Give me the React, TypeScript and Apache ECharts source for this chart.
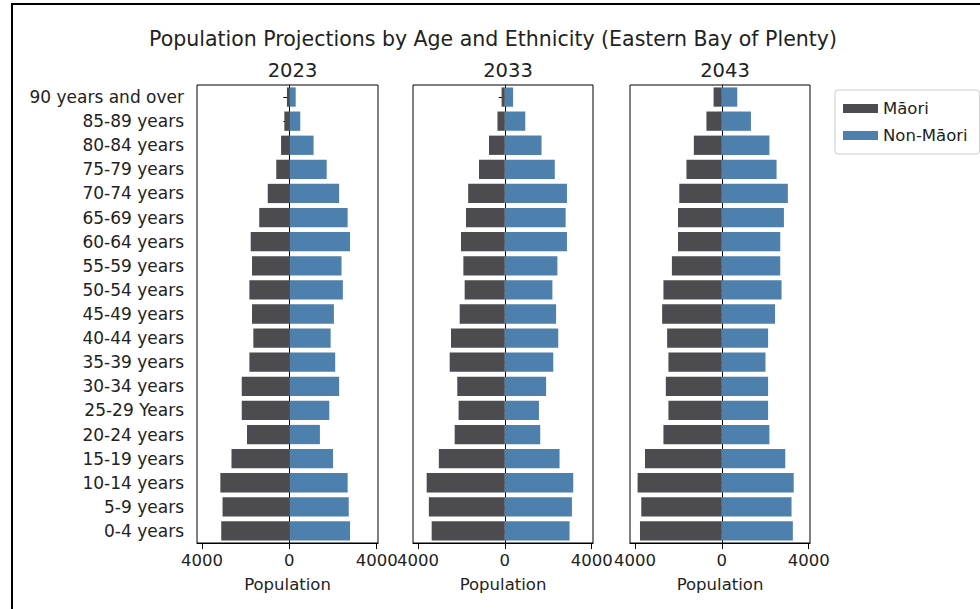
import React, { useEffect, useRef } from "react";
import * as echarts from "echarts";

const ageGroups = [
  "0-4 years", "5-9 years", "10-14 years", "15-19 years", "20-24 years",
  "25-29 Years", "30-34 years", "35-39 years", "40-44 years", "45-49 years",
  "50-54 years", "55-59 years", "60-64 years", "65-69 years", "70-74 years",
  "75-79 years", "80-84 years", "85-89 years", "90 years and over",
];

const years = ["2023", "2033", "2043"];

// Māori population (shown to the left)
const maori2023 = [3120, 3060, 3160, 2650, 1940, 2180, 2180, 1830, 1650, 1710, 1830, 1710, 1770, 1380, 990, 600, 380, 230, 110];
const maori2033 = [3370, 3500, 3600, 3040, 2310, 2130, 2190, 2540, 2480, 2080, 1850, 1910, 2020, 1790, 1690, 1190, 730, 340, 150];
const maori2043 = [3770, 3710, 3880, 3540, 2690, 2460, 2580, 2460, 2520, 2750, 2690, 2300, 2020, 2020, 1960, 1630, 1290, 710, 380];

// Non-Māori population (shown to the right)
const nonMaori2023 = [2780, 2720, 2670, 2000, 1400, 1830, 2280, 2100, 1890, 2040, 2450, 2390, 2780, 2670, 2280, 1710, 1110, 500, 290];
const nonMaori2033 = [2980, 3090, 3150, 2520, 1630, 1570, 1900, 2230, 2460, 2360, 2190, 2420, 2860, 2800, 2860, 2300, 1690, 940, 380];
const nonMaori2043 = [3270, 3210, 3310, 2920, 2190, 2130, 2130, 2010, 2130, 2450, 2750, 2690, 2690, 2860, 3040, 2520, 2190, 1340, 710];

const maoriData = [maori2023, maori2033, maori2043];
const nonMaoriData = [nonMaori2023, nonMaori2033, nonMaori2043];

const xTicks = [-4000, 0, 4000];

const FONT = "DejaVu Sans";
const MAORI_COLOR = "#4b4b50";
const NON_MAORI_COLOR = "#4e80ad";

export default function App() {
  const ref = useRef<HTMLDivElement>(null);

  useEffect(() => {
    if (!ref.current) return;
    const chart = echarts.init(ref.current, undefined, { renderer: "svg" });

    const panels = [
      { left: 197, width: 181 },
      { left: 413, width: 180 },
      { left: 630, width: 180 },
    ];

    const grids = panels.map((p) => ({
      left: p.left,
      width: p.width,
      top: 85,
      bottom: 66,
      show: true,
      borderColor: "#000",
      borderWidth: 1,
      backgroundColor: "transparent",
    }));

    const xAxes = panels.map((_, i) => ({
      type: "value",
      gridIndex: i,
      min: -4230,
      max: 4060,
      splitLine: { show: false },
      axisLine: { show: true, onZero: false, lineStyle: { color: "#000" } },
      axisTick: {
        show: true,
        length: 6,
        customValues: xTicks,
        lineStyle: { color: "#000" },
      },
      axisLabel: {
        customValues: xTicks,
        formatter: (v: number) => String(Math.abs(v)),
        fontFamily: FONT,
        fontSize: 16.5,
        color: "#222",
        margin: 9,
      },
      name: "Population",
      nameLocation: "middle",
      nameGap: 33,
      nameTextStyle: { fontFamily: FONT, fontSize: 16.5, color: "#222" },
    }));

    const yAxes = panels.map((_, i) => ({
      type: "category",
      gridIndex: i,
      data: ageGroups,
      axisLine: { show: true, lineStyle: { color: "#000" } },
      axisTick: {
        show: true,
        alignWithLabel: true,
        length: 6,
        lineStyle: { color: "#000" },
      },
      axisLabel: {
        show: i === 0,
        fontFamily: FONT,
        fontSize: 17,
        color: "#222",
        margin: 13,
        interval: 0,
      },
      splitLine: { show: false },
    }));

    const series: any[] = [];
    panels.forEach((_, i) => {
      series.push({
        name: "Māori",
        type: "bar",
        xAxisIndex: i,
        yAxisIndex: i,
        stack: "s" + i,
        barWidth: "80%",
        data: maoriData[i].map((v) => -v),
        itemStyle: { color: MAORI_COLOR },
      });
      series.push({
        name: "Non-Māori",
        type: "bar",
        xAxisIndex: i,
        yAxisIndex: i,
        stack: "s" + i,
        barWidth: "80%",
        data: nonMaoriData[i],
        itemStyle: { color: NON_MAORI_COLOR },
      });
    });

    const titles: any[] = [
      {
        text: "Population Projections by Age and Ethnicity (Eastern Bay of Plenty)",
        left: 488,
        top: 23,
        textAlign: "center",
        textStyle: { fontFamily: FONT, fontSize: 20.5, fontWeight: "normal", color: "#222" },
      },
    ];
    panels.forEach((p, i) => {
      titles.push({
        text: years[i],
        left: p.left + p.width / 2,
        top: 55,
        textAlign: "center",
        textStyle: { fontFamily: FONT, fontSize: 19.5, fontWeight: "normal", color: "#222" },
      });
    });

    chart.setOption({
      animation: false,
      backgroundColor: "#fff",
      title: titles,
      grid: grids,
      xAxis: xAxes,
      yAxis: yAxes,
      legend: {
        data: ["Māori", "Non-Māori"],
        orient: "vertical",
        left: 835,
        top: 90,
        icon: "rect",
        itemWidth: 35,
        itemHeight: 9,
        itemGap: 10,
        padding: [10, 12, 10, 8],
        borderColor: "#ccc",
        borderWidth: 1,
        borderRadius: 3,
        textStyle: { fontFamily: FONT, fontSize: 16.5, color: "#222" },
      },
      graphic: [
        {
          type: "rect",
          shape: { x: 12, y: 4, width: 1000, height: 700 },
          style: { fill: "none", stroke: "#000", lineWidth: 2 },
          silent: true,
        },
      ],
      series,
    });

    return () => chart.dispose();
  }, []);

  return (
    <div
      ref={ref}
      style={{ position: "fixed", left: 0, top: 0, width: 980, height: 609 }}
    />
  );
}
